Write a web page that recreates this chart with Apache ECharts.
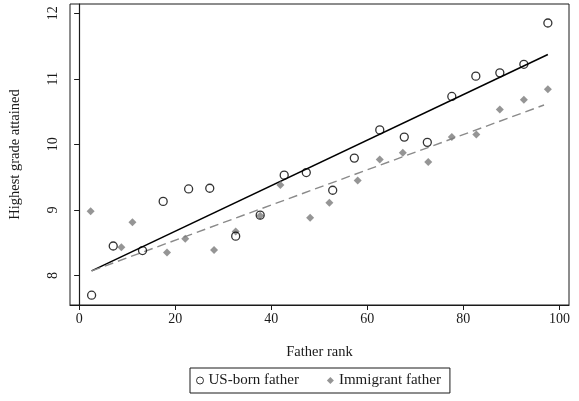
<!DOCTYPE html>
<html>
<head>
<meta charset="utf-8">
<script src="https://cdn.jsdelivr.net/npm/echarts@6/dist/echarts.min.js"></script>
<style>
  html, body { margin: 0; padding: 0; background: #fff; }
  #chart { width: 579px; height: 401px; }
</style>
</head>
<body>
<div id="chart"></div>
<script>
// Father rank bins (x) and mean highest grade attained (y)
const usBornRank = [2.6, 7.1, 13.2, 17.5, 22.8, 27.2, 32.6, 37.7, 42.7, 47.3,
                    52.8, 57.3, 62.6, 67.7, 72.5, 77.6, 82.6, 87.6, 92.6, 97.6];
const usBornGrade = [7.70, 8.45, 8.38, 9.13, 9.32, 9.33, 8.60, 8.92, 9.53, 9.57,
                     9.30, 9.79, 10.22, 10.11, 10.03, 10.73, 11.04, 11.09, 11.22, 11.85];

const immigrantRank = [2.4, 8.8, 11.1, 18.3, 22.1, 28.1, 32.6, 37.7, 41.9, 48.1,
                       52.1, 58.0, 62.6, 67.4, 72.7, 77.6, 82.7, 87.6, 92.6, 97.6];
const immigrantGrade = [8.98, 8.43, 8.81, 8.35, 8.56, 8.39, 8.67, 8.91, 9.38, 8.88,
                        9.11, 9.45, 9.77, 9.87, 9.73, 10.11, 10.15, 10.53, 10.68, 10.84];

// Linear fit endpoints for each group
const usBornFitRank = [2.6, 97.6];
const usBornFitGrade = [8.07, 11.37];
const immigrantFitRank = [2.6, 96.8];
const immigrantFitGrade = [8.07, 10.60];

// Tick labels
const xTicks = [0, 20, 40, 60, 80, 100];
const yTicks = [8, 9, 10, 11, 12];

const zip = (xs, ys) => xs.map((x, i) => [x, ys[i]]);

const font = '"Liberation Serif", "DejaVu Serif", serif';
const ink = '#1a1a1a';

const chart = echarts.init(document.getElementById('chart'), null, { renderer: 'canvas' });
chart.setOption({
  animation: false,
  backgroundColor: '#fff',
  textStyle: { fontFamily: font },
  grid: {
    left: 70, right: 10, top: 4, bottom: 96,
    show: true, borderColor: ink, borderWidth: 1, backgroundColor: 'transparent'
  },
  xAxis: {
    type: 'value',
    min: -1.9, max: 102,
    name: 'Father rank',
    nameLocation: 'middle',
    nameGap: 40,
    nameTextStyle: { fontFamily: font, fontSize: 14.5, color: ink },
    axisLine: { show: true, lineStyle: { color: ink, width: 1.2 } },
    axisTick: { show: true, length: 5, customValues: xTicks, lineStyle: { color: ink } },
    axisLabel: { customValues: xTicks, fontFamily: font, fontSize: 14, color: ink, margin: 7 },
    splitLine: { show: false }
  },
  yAxis: {
    type: 'value',
    min: 7.55, max: 12.14,
    name: 'Highest grade attained',
    nameLocation: 'middle',
    nameRotate: 90,
    nameGap: 47,
    nameTextStyle: { fontFamily: font, fontSize: 14.5, color: ink },
    axisLine: { show: true, lineStyle: { color: ink, width: 1.2 } },
    axisTick: { show: true, length: 5, customValues: yTicks, lineStyle: { color: ink } },
    axisLabel: { customValues: yTicks, rotate: 90, fontFamily: font, fontSize: 14, color: ink, margin: 10 },
    splitLine: { show: false }
  },
  legend: {
    data: [
      { name: 'US-born father', itemStyle: { borderWidth: 1 } },
      { name: 'Immigrant father' }
    ],
    left: 190, top: 368,
    orient: 'horizontal',
    itemWidth: 7, itemHeight: 7,
    itemGap: 28,
    padding: [5, 9, 5, 6],
    borderColor: ink, borderWidth: 1,
    textStyle: { fontFamily: font, fontSize: 15, color: ink }
  },
  series: [
    {
      name: 'US-born fit',
      type: 'line',
      data: zip(usBornFitRank, usBornFitGrade),
      symbol: 'none',
      lineStyle: { color: '#000', width: 1.5 },
      z: 2,
      silent: true
    },
    {
      name: 'Immigrant fit',
      type: 'line',
      data: zip(immigrantFitRank, immigrantFitGrade),
      symbol: 'none',
      lineStyle: { color: '#8a8a8a', width: 1.4, type: [9, 5] },
      z: 2,
      silent: true
    },
    {
      name: 'Immigrant father',
      type: 'scatter',
      data: zip(immigrantRank, immigrantGrade),
      symbol: 'diamond',
      symbolSize: 8,
      itemStyle: { color: '#7a7a7a' },
      z: 3
    },
    {
      name: 'US-born father',
      type: 'scatter',
      data: zip(usBornRank, usBornGrade),
      symbol: 'circle',
      symbolSize: 8,
      itemStyle: { color: 'rgba(255,255,255,0)', borderColor: '#000', borderWidth: 1.3 },
      z: 4
    }
  ]
});
</script>
</body>
</html>
